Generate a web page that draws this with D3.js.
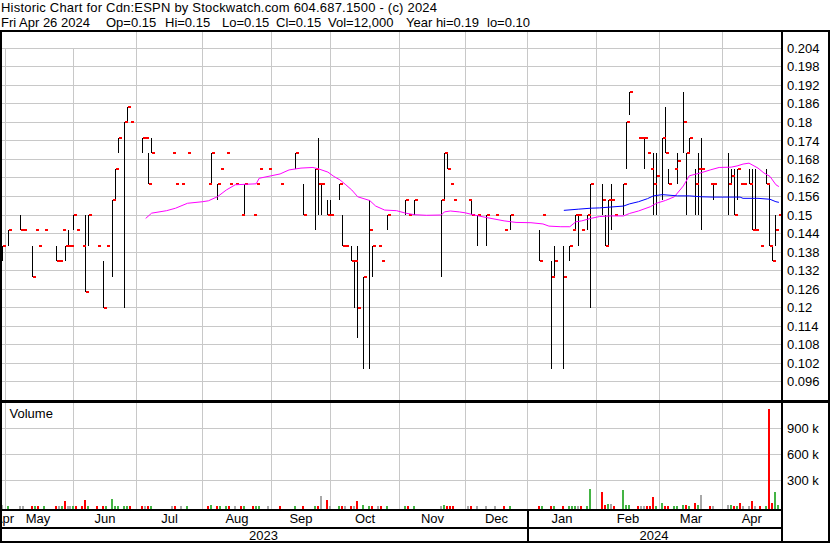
<!DOCTYPE html>
<html><head><meta charset="utf-8">
<script src="https://cdn.jsdelivr.net/npm/d3@7"></script>
<style>
html,body{margin:0;padding:0;background:#fff;}
svg{display:block;font-family:Arial,"Liberation Sans",sans-serif;}
</style></head><body>
<svg id="chart" width="830" height="543"></svg>
<script>
// ---------------- DATA ----------------
const titleLine = "Historic Chart for Cdn:ESPN by Stockwatch.com 604.687.1500 - (c) 2024";
const infoTexts = ["Fri Apr 26 2024","Op=0.15","Hi=0.15","Lo=0.15","Cl=0.15","Vol=12,000","Year hi=0.19","lo=0.10"];
const symbol = "Cdn:ESPN";
const firstSession = "2023-04-28";
const lastSession = "2024-04-26";

const dates = [
 "2023-04-28","2023-05-02","2023-05-08","2023-05-09","2023-05-12","2023-05-15","2023-05-16","2023-05-18","2023-05-24","2023-05-25","2023-05-26","2023-05-29","2023-05-30","2023-05-31",
 "2023-06-01","2023-06-02","2023-06-06","2023-06-07","2023-06-08","2023-06-13","2023-06-15","2023-06-16","2023-06-20","2023-06-21","2023-06-22","2023-06-26","2023-06-27","2023-06-28",
 "2023-07-04","2023-07-05","2023-07-06","2023-07-07","2023-07-18","2023-07-19","2023-07-21","2023-07-25",
 "2023-08-03","2023-08-04","2023-08-08","2023-08-09","2023-08-11","2023-08-14","2023-08-16","2023-08-18","2023-08-21","2023-08-24","2023-08-25","2023-08-28","2023-08-31",
 "2023-09-06","2023-09-13","2023-09-18","2023-09-22","2023-09-25","2023-09-26","2023-09-28","2023-09-29",
 "2023-10-04","2023-10-05","2023-10-06","2023-10-10","2023-10-11","2023-10-12","2023-10-16","2023-10-18","2023-10-19","2023-10-23","2023-10-24","2023-10-26",
 "2023-11-03","2023-11-06","2023-11-08","2023-11-21","2023-11-22","2023-11-23","2023-11-24","2023-11-27",
 "2023-12-04","2023-12-05","2023-12-07","2023-12-12","2023-12-15","2023-12-20","2023-12-22",
 "2024-01-05","2024-01-08","2024-01-11","2024-01-12","2024-01-17","2024-01-19","2024-01-22","2024-01-23","2024-01-24","2024-01-25","2024-01-29","2024-01-30",
 "2024-02-05","2024-02-06","2024-02-07","2024-02-08","2024-02-09","2024-02-14","2024-02-15","2024-02-16","2024-02-21","2024-02-22","2024-02-23","2024-02-26","2024-02-27","2024-02-28","2024-02-29",
 "2024-03-04","2024-03-05","2024-03-06","2024-03-08","2024-03-11","2024-03-13","2024-03-14","2024-03-15","2024-03-19","2024-03-20","2024-03-21","2024-03-26","2024-03-27",
 "2024-04-03","2024-04-04","2024-04-05","2024-04-08","2024-04-09","2024-04-10","2024-04-12","2024-04-15","2024-04-16","2024-04-18","2024-04-22","2024-04-23","2024-04-24","2024-04-25","2024-04-26"
];
const high = [
 .14,.145,.15,.145,.14,.145,.14,.145,.14,.135,.145,.14,.145,.14,
 .15,.145,.14,.15,.15,.14,.135,.14,.155,.165,.175,.18,.185,.18,
 .175,.175,.17,.175,.17,.16,.16,.17,
 .16,.17,.16,.165,.17,.16,.16,.15,.16,.15,.16,.165,.165,
 .16,.17,.16,.165,.175,.16,.155,.155,
 .16,.15,.14,.14,.135,.14,.13,.155,.14,.14,.135,.15,
 .155,.15,.155,.155,.17,.17,.16,.155,
 .155,.155,.15,.15,.15,.145,.15,
 .145,.15,.135,.14,.14,.14,.145,.15,.15,.145,.15,.16,
 .16,.15,.155,.16,.15,.16,.18,.19,.175,.175,.175,.17,.165,.17,.17,
 .175,.185,.165,.165,.17,.19,.17,.175,.165,.17,.175,.16,.16,
 .17,.165,.165,.165,.16,.16,.165,.165,.165,.14,.165,.16,.14,.15,.15
];
const low = [
 .135,.14,.145,.145,.13,.145,.14,.145,.135,.135,.145,.135,.14,.14,
 .145,.145,.14,.125,.14,.14,.12,.14,.13,.155,.17,.12,.18,.18,
 .17,.175,.16,.17,.17,.16,.16,.17,
 .16,.16,.155,.165,.17,.16,.16,.15,.15,.15,.16,.165,.165,
 .16,.165,.15,.145,.15,.15,.15,.15,
 .155,.14,.14,.135,.12,.11,.10,.10,.13,.14,.135,.145,
 .15,.15,.15,.13,.155,.165,.16,.155,
 .155,.15,.14,.14,.15,.145,.145,
 .135,.15,.10,.13,.10,.135,.145,.145,.14,.145,.145,.12,
 .15,.14,.14,.145,.15,.15,.165,.1825,.175,.175,.165,.17,.165,.15,.15,
 .155,.17,.16,.165,.16,.17,.15,.17,.15,.15,.145,.16,.155,
 .15,.16,.15,.155,.16,.16,.16,.145,.145,.14,.16,.14,.135,.14,.15
];
const close = [
 .14,.145,.145,.145,.13,.145,.14,.145,.135,.135,.145,.14,.14,.14,
 .15,.145,.14,.125,.15,.14,.12,.14,.155,.165,.175,.18,.185,.18,
 .175,.175,.16,.17,.17,.16,.16,.17,
 .16,.17,.16,.165,.17,.16,.16,.15,.16,.15,.16,.165,.165,
 .16,.17,.15,.165,.16,.16,.15,.15,
 .16,.14,.14,.135,.135,.12,.13,.145,.14,.14,.135,.15,
 .155,.15,.155,.155,.17,.165,.16,.155,
 .155,.15,.15,.15,.15,.145,.15,
 .135,.15,.13,.135,.13,.14,.145,.15,.15,.145,.15,.16,
 .155,.14,.155,.155,.15,.16,.18,.19,.175,.175,.175,.17,.165,.16,.1625,
 .175,.17,.16,.165,.1675,.18,.17,.175,.16,.165,.165,.16,.16,
 .16,.1625,.15,.165,.16,.16,.16,.145,.145,.14,.16,.14,.135,.145,.15
];
// volume in thousands of shares
const volumeK = [
 20,5,3,3,5,5,5,5,3,3,5,62,3,3,
 5,5,5,78,8,3,5,3,85,5,3,5,3,3,
 5,5,5,3,3,5,3,3,
 5,15,5,5,5,5,3,5,5,5,5,3,3,
 5,3,3,8,8,117,70,3,
 5,5,3,5,3,59,13,5,3,3,3,3,
 5,3,3,3,10,5,5,5,
 3,3,3,3,3,3,3,
 3,3,5,5,8,5,5,5,5,3,8,197,
 160,13,24,24,3,186,10,10,3,3,3,3,3,105,5,
 39,8,5,3,8,10,10,5,39,20,136,5,3,
 13,13,8,5,39,3,5,62,5,5,5,1120,36,167,12
];
// moving averages: [date, value]
const maShort = [
 ["2023-07-05",.1489],["2023-07-07",.1506],["2023-07-14",.1514],["2023-07-19",.1522],["2023-07-25",.1538],
 ["2023-08-01",.1543],["2023-08-03",.1546],["2023-08-08",.1559],["2023-08-11",.1581],["2023-08-16",.1598],
 ["2023-08-25",.1601],["2023-08-28",.1619],["2023-09-01",.1627],["2023-09-06",.1633],["2023-09-11",.1646],
 ["2023-09-15",.1652],["2023-09-21",.1654],["2023-09-25",.1649],["2023-09-28",.1639],["2023-10-02",.1625],
 ["2023-10-04",.1614],["2023-10-06",.1598],["2023-10-10",.1581],["2023-10-12",.1559],["2023-10-18",.1547],
 ["2023-10-20",.1529],["2023-10-25",.1516],["2023-10-31",.1514],["2023-11-03",.1506],["2023-11-08",.1501],
 ["2023-11-14",.1499],["2023-11-21",.1500],["2023-11-22",.1510],["2023-11-24",.1513],["2023-11-29",.1510],
 ["2023-12-01",.1507],["2023-12-06",.1500],["2023-12-12",.1492],["2023-12-20",.1481],["2023-12-26",.1476],
 ["2024-01-02",.1475],["2024-01-08",.1471],["2024-01-10",.1464],["2024-01-16",.1462],["2024-01-19",.1462],
 ["2024-01-23",.1478],["2024-01-25",.1481],["2024-01-30",.1489],["2024-02-02",.1495],["2024-02-08",.1497],
 ["2024-02-14",.1497],["2024-02-16",.1505],["2024-02-21",.1513],["2024-02-27",.1527],["2024-02-29",.1538],
 ["2024-03-05",.1547],["2024-03-08",.1559],["2024-03-13",.1594],["2024-03-15",.1627],["2024-03-21",.1637],
 ["2024-03-26",.1646],["2024-03-29",.1654],["2024-04-04",.1655],["2024-04-08",.1659],["2024-04-10",.1665],
 ["2024-04-12",.1668],["2024-04-17",.1652],["2024-04-19",.1636],["2024-04-23",.1625],["2024-04-25",.1598],
 ["2024-04-26",.1592]
];
const maLong = [
 ["2024-01-17",.1515],["2024-01-24",.1519],["2024-01-30",.1522],["2024-02-02",.1523],["2024-02-08",.1526],
 ["2024-02-14",.1529],["2024-02-16",.1536],["2024-02-21",.1543],["2024-02-26",.1553],["2024-02-28",.1562],
 ["2024-03-04",.1566],["2024-03-11",.1562],["2024-03-15",.1562],["2024-03-21",.1559],["2024-03-27",.1558],
 ["2024-04-09",.1558],["2024-04-10",.1554],["2024-04-17",.1554],["2024-04-23",.1551],["2024-04-25",.1543],
 ["2024-04-26",.1541]
];
const priceTicks = [0.096,0.102,0.108,0.114,0.12,0.126,0.132,0.138,0.144,0.15,0.156,0.162,0.168,0.174,0.18,0.186,0.192,0.198,0.204];
const priceTickLabels = ["0.096","0.102","0.108","0.114","0.12","0.126","0.132","0.138","0.144","0.15","0.156","0.162","0.168","0.174","0.18","0.186","0.192","0.198","0.204"];
const volumeTicks = [300000,600000,900000];
const volumeTickLabels = ["300 k","600 k","900 k"];
const monthStarts = ["2023-05-01","2023-06-01","2023-07-01","2023-08-01","2023-09-01","2023-10-01","2023-11-01","2023-12-01","2024-01-01","2024-02-01","2024-03-01","2024-04-01"];
const monthLabels = ["Apr","May","Jun","Jul","Aug","Sep","Oct","Nov","Dec","Jan","Feb","Mar","Apr"];
const yearStarts = ["2024-01-01"];
const yearLabels = ["2023","2024"];

// ---------------- LAYOUT ----------------
const W = 830, H = 543;
const plotL = 2, plotR = 781, priceTop = 31, priceBot = 400, volTop = 402, volBase = 508.5;
const colors = {grid:"#c8c8c8", up:"#44b444", down:"#ff0000", flat:"#a8a8a8", close:"#ff0000", range:"#000", maS:"#ff00ff", maL:"#0000ff"};

const parse = d3.utcParse("%Y-%m-%d");
const t0 = parse(firstSession);
const isWeekday = d => { const w = d.getUTCDay(); return w !== 0 && w !== 6; };
const session = s => d3.utcDays(t0, d3.utcDay.offset(parse(s), 1)).filter(isWeekday).length - 1;

const x = d3.scaleLinear().domain([0, session(lastSession)]).range([2.3, 778.9]);
const yP = d3.scaleLinear().domain([0.09, 0.21]).range([400.2, 29.8]);
const yV = d3.scaleLinear().domain([0, 1200000]).range([506.3, 402.3]);

const days = dates.map((d, i) => ({
  s: session(d), h: high[i], l: low[i], c: close[i], v: volumeK[i] * 1000,
  dir: i === 0 ? 0 : Math.sign(Math.round((close[i] - close[i-1]) * 10000))
}));

const svg = d3.select("#chart");
svg.append("rect").attr("width", W).attr("height", H).attr("fill", "#fff");
const crisp = svg.append("g").attr("shape-rendering", "crispEdges");

// grids
const monthX = monthStarts.map(m => Math.floor(x(session(m))) + 0.5);
const gGrid = crisp.append("g").attr("stroke", colors.grid).attr("stroke-width", 1);
gGrid.selectAll(".hp").data(priceTicks).join("line")
  .attr("x1", plotL).attr("x2", plotR)
  .attr("y1", d => Math.floor(yP(d)) + 0.5).attr("y2", d => Math.floor(yP(d)) + 0.5);
gGrid.selectAll(".hv").data(volumeTicks).join("line")
  .attr("x1", plotL).attr("x2", plotR)
  .attr("y1", d => Math.floor(yV(d)) + 0.5).attr("y2", d => Math.floor(yV(d)) + 0.5);
gGrid.selectAll(".vp").data(monthX).join("line")
  .attr("x1", d => d).attr("x2", d => d).attr("y1", priceTop).attr("y2", priceBot);
gGrid.selectAll(".vv").data(monthX).join("line")
  .attr("x1", d => d).attr("x2", d => d).attr("y1", volTop).attr("y2", volBase);

// moving averages
const maLine = d3.line().x(d => x(session(d[0]))).y(d => yP(d[1]));
svg.append("path").datum(maShort).attr("d", maLine).attr("fill", "none").attr("stroke", colors.maS).attr("stroke-width", 1);
svg.append("path").datum(maLong).attr("d", maLine).attr("fill", "none").attr("stroke", colors.maL).attr("stroke-width", 1);

// high-low ranges
crisp.append("g").selectAll("rect").data(days.filter(d => d.h > d.l)).join("rect")
  .attr("x", d => Math.floor(x(d.s))).attr("width", 1)
  .attr("y", d => Math.round(yP(d.h))).attr("height", d => Math.round(yP(d.l)) - Math.round(yP(d.h)))
  .attr("fill", colors.range);
// close ticks
crisp.append("g").selectAll("rect").data(days).join("rect")
  .attr("x", d => Math.floor(x(d.s)) + 1).attr("width", 3)
  .attr("y", d => Math.round(yP(d.c)) - 1).attr("height", 2)
  .attr("fill", colors.close);
// volume
crisp.append("g").selectAll("rect").data(days).join("rect")
  .attr("x", d => Math.floor(x(d.s)) - 1).attr("width", 2)
  .attr("y", d => yV(d.v)).attr("height", d => volBase - yV(d.v))
  .attr("fill", d => d.dir > 0 ? colors.up : d.dir < 0 ? colors.down : colors.flat);

// frame
const frame = crisp.append("g").attr("fill", "#000");
frame.append("rect").attr("x", 0).attr("y", 29.5).attr("width", W).attr("height", 2.5);
frame.append("rect").attr("x", 0).attr("y", 29.5).attr("width", 2).attr("height", H - 29.5);
frame.append("rect").attr("x", 781).attr("y", 29.5).attr("width", 2).attr("height", H - 29.5);
frame.append("rect").attr("x", 828).attr("y", 29.5).attr("width", 2).attr("height", H - 29.5);
frame.append("rect").attr("x", 0).attr("y", 400).attr("width", W).attr("height", 2.5);
frame.append("rect").attr("x", 0).attr("y", 508.5).attr("width", 783).attr("height", 2);
frame.append("rect").attr("x", 0).attr("y", 526.5).attr("width", 783).attr("height", 2);
frame.append("rect").attr("x", 0).attr("y", 541).attr("width", W).attr("height", 2);
const yearX = yearStarts.map(m => Math.floor(x(session(m))));
frame.selectAll(".ys").data(yearX).join("rect").attr("x", d => d).attr("y", 509).attr("width", 2).attr("height", 33);

// labels
const txt = svg.append("g").attr("font-size", 13).attr("fill", "#000");
txt.append("text").attr("x", 1).attr("y", 11.7).attr("textLength", 436).attr("lengthAdjust", "spacing").text(titleLine);
const infoX = [1, 106, 165, 222, 276, 328, 406, 487];
txt.selectAll(".info").data(infoTexts).join("text").attr("x", (d, i) => infoX[i]).attr("y", 27.4).text(d => d);

svg.append("rect").attr("x", 2).attr("y", 32).attr("width", 72).attr("height", 16).attr("fill", "#fff");
txt.append("text").attr("x", 9).attr("y", 45.7).text(symbol);
txt.append("text").attr("x", 9.5).attr("y", 418).text("Volume");

txt.selectAll(".pt").data(priceTicks).join("text")
  .attr("x", 787).attr("y", d => yP(d) + 4.6).text((d, i) => priceTickLabels[i]);
txt.selectAll(".vt").data(volumeTicks).join("text")
  .attr("x", 787).attr("y", d => yV(d) + 4.6).text((d, i) => volumeTickLabels[i]);

// month labels (centered between month gridlines)
const bounds = [null, ...monthX, plotR];
svg.append("clipPath").attr("id", "axclip").append("rect").attr("x", 2).attr("y", 509).attr("width", 779).attr("height", 34);
const mg = txt.append("g").attr("clip-path", "url(#axclip)").attr("text-anchor", "middle");
monthLabels.forEach((lab, i) => {
  const cx = i === 0 ? monthX[0] - 1.5 : (bounds[i] + bounds[i + 1]) / 2 - (i === 1 ? 1.5 : 0);
  mg.append("text").attr("x", cx).attr("y", 523.3).text(lab);
});
const yb = [0, ...yearX, plotR];
yearLabels.forEach((lab, i) => {
  mg.append("text").attr("x", (yb[i] + yb[i + 1]) / 2).attr("y", 539.7).text(lab);
});
</script>
</body></html>
